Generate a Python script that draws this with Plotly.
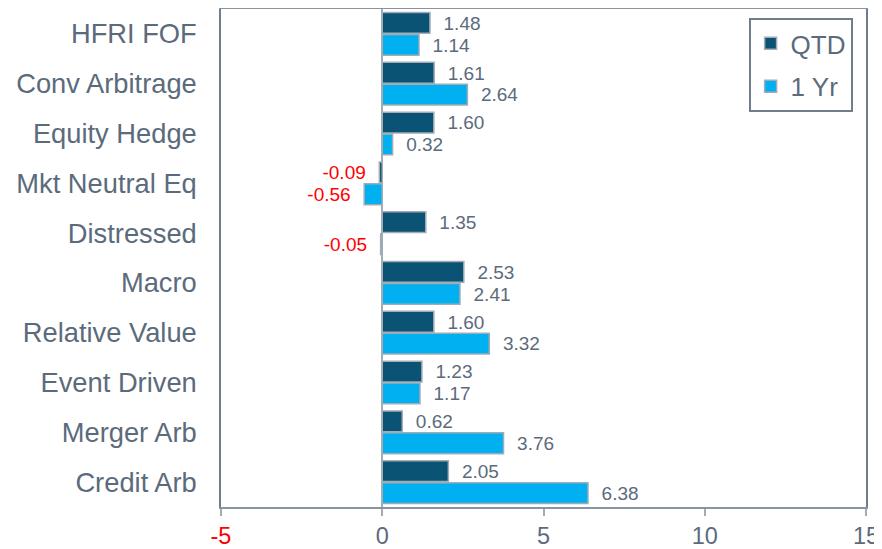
import plotly.graph_objects as go

categories = ["HFRI FOF", "Conv Arbitrage", "Equity Hedge", "Mkt Neutral Eq", "Distressed",
              "Macro", "Relative Value", "Event Driven", "Merger Arb", "Credit Arb"]
qtd = [1.48, 1.61, 1.60, -0.09, 1.35, 2.53, 1.60, 1.23, 0.62, 2.05]
one_yr = [1.14, 2.64, 0.32, -0.56, -0.05, 2.41, 3.32, 1.17, 3.76, 6.38]
tick_vals = [-5, 0, 5, 10, 15]
tick_text = ['<span style="color:#ff0000">-5</span>', "0", "5", "10", "15"]

GRAY = "#5b6b7c"
def lbl_colors(vals):
    return ["#ff0000" if v < 0 else GRAY for v in vals]
def lbl_text(vals):
    return [(f"{v:.2f}  " if v < 0 else f"  {v:.2f}") for v in vals]

fig = go.Figure()
fig.add_trace(go.Bar(
    y=categories, x=qtd, name="QTD", orientation="h", legendgroup="a",
    marker=dict(color="#0b5374", line=dict(color="#a3acb5", width=1.5)),
    text=lbl_text(qtd), textposition="outside",
    textfont=dict(size=21, color=lbl_colors(qtd), family="Liberation Sans"),
    cliponaxis=False,
))
fig.add_trace(go.Bar(
    y=categories, x=one_yr, name="1 Yr", orientation="h", legendgroup="b",
    marker=dict(color="#00b0f0", line=dict(color="#a3acb5", width=1.5)),
    text=lbl_text(one_yr), textposition="outside",
    textfont=dict(size=21, color=lbl_colors(one_yr), family="Liberation Sans"),
    cliponaxis=False,
))

# page body has an 8px margin, so the figure is drawn 8px right/down
fig.update_layout(
    width=874, height=541,
    margin=dict(l=213, r=16, t=1, b=42, autoexpand=False),
    paper_bgcolor="white", plot_bgcolor="white",
    barmode="group", bargap=0.12, bargroupgap=0.05,
    font=dict(family="Liberation Sans", color=GRAY, size=20),
    showlegend=True,
    legend=dict(x=0.818, y=0.982, xanchor="left", yanchor="top",
                bordercolor="#6e7e8d", borderwidth=2, bgcolor="white",
                font=dict(size=26, color=GRAY), itemwidth=30, tracegroupgap=6),
    xaxis=dict(range=[-5, 15], tickvals=tick_vals, ticktext=tick_text, automargin=False,
               showgrid=False, zeroline=True, zerolinecolor="#a3acb5", zerolinewidth=1.5,
               showline=True, linecolor="#8894a0", linewidth=2, mirror=True,
               ticks="outside", ticklen=7, tickcolor="#a3acb5", tickwidth=1.5,
               tickfont=dict(size=23.5, color=GRAY)),
    yaxis=dict(autorange="reversed", showgrid=False, showline=True, automargin=False,
               linecolor="#6e7e8d", linewidth=1.5, mirror=True, ticks="",
               tickfont=dict(size=27.3, color=GRAY), ticklabelstandoff=17),
)

fig.write_html("out.html")
